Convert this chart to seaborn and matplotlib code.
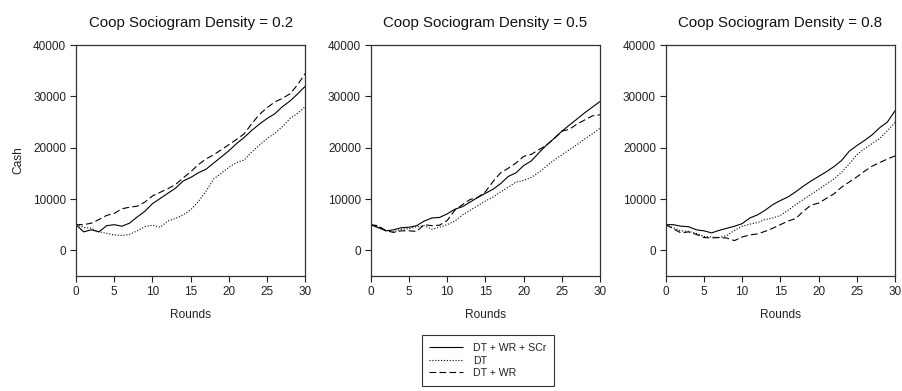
import numpy as np
import pandas as pd
import matplotlib
matplotlib.use("Agg")
import matplotlib.pyplot as plt
import seaborn as sns

rounds = list(range(31))
titles = ["Coop Sociogram Density = 0.2", "Coop Sociogram Density = 0.5", "Coop Sociogram Density = 0.8"]
series_names = ["DT + WR + SCr", "DT", "DT + WR"]

# Density 0.2
d02_full = [5000, 3600, 4000, 3600, 4800, 5000, 4700, 5300, 6500, 7600, 9100, 10100, 11100, 12100, 13500, 14200,
            15100, 15800, 17000, 18200, 19400, 20800, 22000, 23400, 24600, 25700, 26600, 28000, 29100, 30500, 32000]
d02_dt = [5000, 4500, 4300, 3600, 3300, 3000, 2900, 3100, 3800, 4600, 4900, 4500, 5700, 6200, 6900, 7900,
          9500, 11500, 13900, 15000, 16200, 17100, 17600, 19200, 20500, 21800, 22800, 24100, 25700, 26700, 28000]
d02_dtwr = [5000, 5000, 5300, 6000, 6800, 7200, 8100, 8400, 8600, 9400, 10600, 11300, 12000, 12800, 14100, 15300,
            16700, 17800, 18600, 19600, 20600, 21600, 22700, 24700, 26500, 27800, 28900, 29600, 30500, 32300, 34500]

# Density 0.5
d05_full = [5000, 4400, 3800, 4000, 4400, 4500, 4800, 5700, 6300, 6400, 7100, 8000, 8500, 9400, 10300, 11100,
            11900, 13000, 14400, 15100, 16500, 17400, 19000, 20500, 21800, 23200, 24400, 25600, 26800, 27900, 29000]
d05_dt = [5000, 4600, 3900, 3600, 4100, 4200, 4600, 4800, 4100, 4500, 5000, 5700, 6900, 7800, 8700, 9600,
          10400, 11400, 12300, 13300, 13600, 14200, 15200, 16400, 17600, 18600, 19600, 20600, 21700, 22700, 23800]
d05_dtwr = [5000, 4800, 3800, 3500, 3800, 3800, 3700, 5000, 4800, 4900, 5800, 7800, 8900, 9900, 10300, 11400,
            13400, 15100, 16000, 17000, 18300, 18700, 19600, 20500, 21800, 23200, 23600, 24600, 25400, 26200, 26400]

# Density 0.8
d08_full = [5000, 5000, 4700, 4600, 4000, 3800, 3400, 3900, 4300, 4700, 5200, 6300, 6900, 7800, 8900, 9700,
            10400, 11400, 12500, 13500, 14400, 15300, 16300, 17500, 19300, 20400, 21400, 22500, 23900, 25000, 27200]
d08_dt = [5000, 4400, 3800, 3700, 3300, 2700, 2600, 2500, 2900, 3900, 4700, 5100, 5400, 6000, 6300, 6800,
          7800, 8900, 9900, 10900, 11900, 12900, 13900, 15200, 16800, 18600, 19800, 20800, 21800, 23300, 24900]
d08_dtwr = [5000, 4200, 3400, 3600, 3100, 2500, 2400, 2500, 2400, 1900, 2600, 3000, 3200, 3700, 4300, 5000,
            5700, 6200, 7600, 8800, 9200, 10100, 11000, 12300, 13300, 14300, 15400, 16400, 17100, 17800, 18400]

panels = [
    (d02_full, d02_dt, d02_dtwr),
    (d05_full, d05_dt, d05_dtwr),
    (d08_full, d08_dt, d08_dtwr),
]

sns.set_theme(style="ticks")
plt.rcParams["font.family"] = ["Liberation Sans", "DejaVu Sans"]

styles = {
    "DT + WR + SCr": (0, ()),
    "DT": (0, (1, 1.6)),
    "DT + WR": (0, (6, 3)),
}

fig = plt.figure(figsize=(9.03, 3.91), dpi=100)
lefts = [0.0842, 0.4105, 0.7372]
bottom, width, height = 0.2941, 0.2540, 0.5908

handles = []
for i, (vals, title) in enumerate(zip(panels, titles)):
    ax = fig.add_axes([lefts[i], bottom, width, height])
    for name, v in zip(series_names, vals):
        df = pd.DataFrame({"Rounds": rounds, "Cash": v})
        sns.lineplot(data=df, x="Rounds", y="Cash", ax=ax, color="black",
                     linewidth=0.8, linestyle=styles[name], label=name, legend=False)
    ax.set_xlim(0, 30)
    ax.set_ylim(-5000, 40000)
    ax.set_xticks([0, 5, 10, 15, 20, 25, 30])
    ax.set_yticks([0, 10000, 20000, 30000, 40000])
    ax.tick_params(axis="both", direction="out", length=4, width=0.8, labelsize=8.5,
                   colors="#222222", pad=3)
    for sp in ax.spines.values():
        sp.set_visible(True)
        sp.set_color("#333333")
        sp.set_linewidth(0.9)
    ax.set_title(title, fontsize=10.8, pad=13, color="#111111")
    ax.set_xlabel("Rounds", fontsize=8.6, labelpad=8, color="#222222")
    if i == 0:
        ax.set_ylabel("Cash", fontsize=8.6, labelpad=6, color="#222222")
        handles = ax.get_lines()[:3]
    else:
        ax.set_ylabel("")

leg = fig.legend(handles, series_names, loc="center", bbox_to_anchor=(0.5404, 0.078),
                 fontsize=7.6, frameon=True, fancybox=False, edgecolor="black",
                 handlelength=3.2, borderpad=0.7, labelspacing=0.25, handletextpad=1.0)
leg.get_frame().set_linewidth(0.8)
for t in leg.get_texts():
    t.set_color("#222222")

fig.savefig("out.png", dpi=100)
